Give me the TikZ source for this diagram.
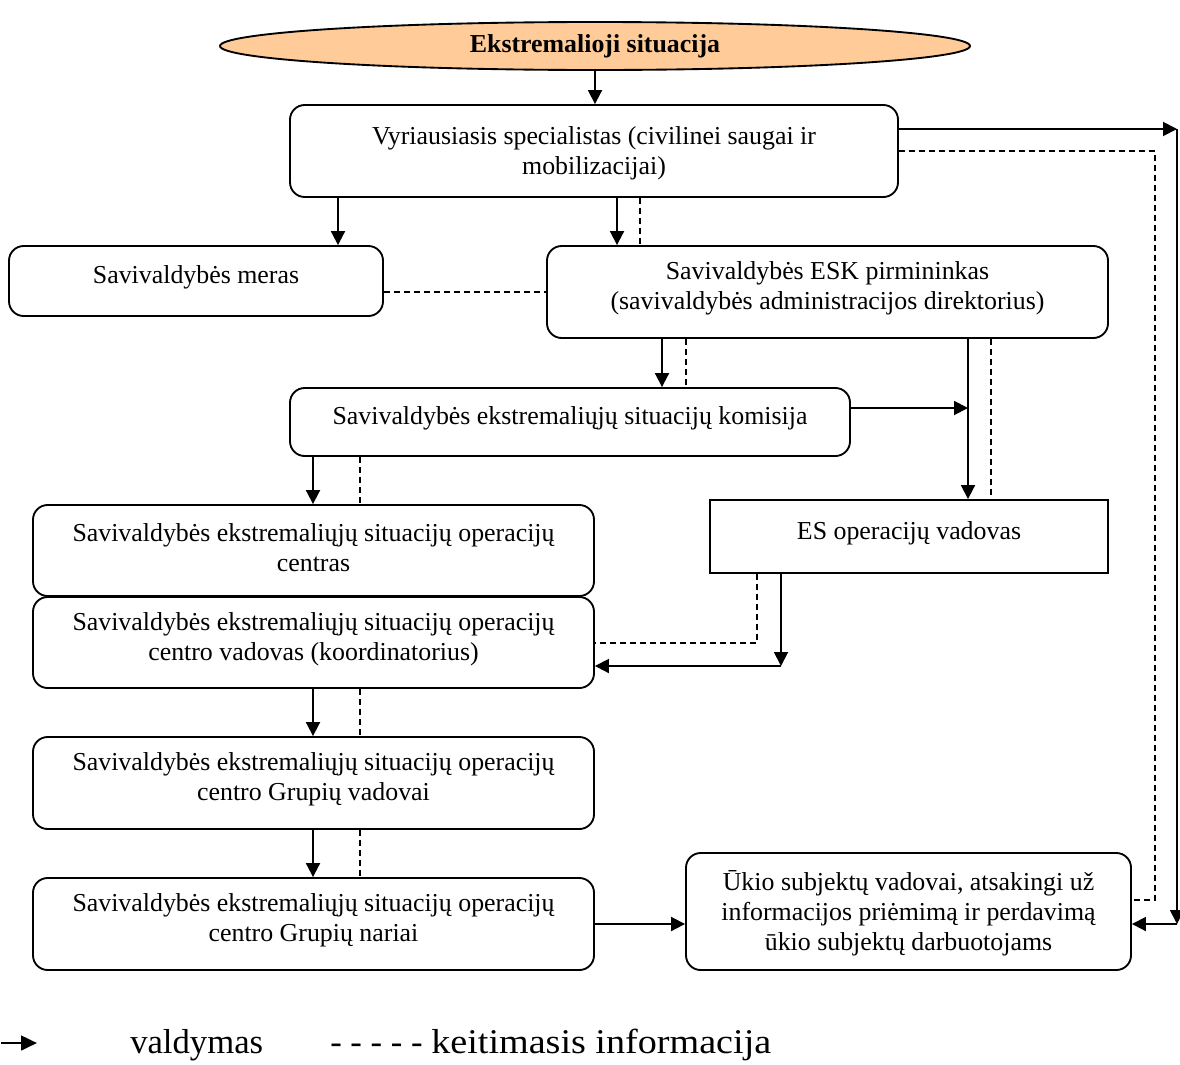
\documentclass[tikz,border=0pt]{standalone}
\usepackage{fontspec}
\setmainfont{Liberation Serif}
\usetikzlibrary{arrows.meta,shapes.geometric,fit}
\begin{document}
\begin{tikzpicture}[x=0.75pt,y=-0.75pt,
  every node/.style={font=\fontsize{19.4}{22.5}\selectfont},
  box/.style={draw,line width=1.4pt,rounded corners=11pt,inner sep=0pt},
  sqbox/.style={draw,line width=1.4pt,inner sep=0pt},
  txt/.style={align=center,inner sep=0pt,yshift=2.5pt},
  arr/.style={line width=1.4pt,-{Triangle[length=10.5pt,width=10.5pt]}},
  dsh/.style={line width=1.4pt,dash pattern=on 4.5pt off 3pt}]
\useasboundingbox (0,0) rectangle (1180,1064);

% column / row helper coordinates
\coordinate (X313) at (313,0);
\coordinate (X360) at (360,0);
\coordinate (X338) at (338,0);
\coordinate (X617) at (617,0);
\coordinate (X640) at (640,0);
\coordinate (X662) at (662,0);
\coordinate (X686) at (686,0);
\coordinate (X968) at (968,0);
\coordinate (X991) at (991,0);
\coordinate (X757) at (757,0);
\coordinate (X781) at (781,0);
\coordinate (X1155) at (1155,0);
\coordinate (X1177) at (1177,0);
\coordinate (Y129) at (0,129);
\coordinate (Y151) at (0,151);
\coordinate (Y408) at (0,408);
\coordinate (Y643) at (0,643);
\coordinate (Y666) at (0,666);
\coordinate (Y900) at (0,900);
\coordinate (Y924) at (0,924);

\node[draw,line width=1.4pt,ellipse,fill={rgb,255:red,255;green,204;blue,153},
      minimum width=562.5pt,minimum height=36pt,inner sep=0pt] (e) at (595,46)
      {\textbf{Ekstremalioji situacija}};

\node[box,fit={(290,105) (898,197)}] (b1) {};
\node[txt,yshift=-4.5pt] (b1t) at (b1.center) {Vyriausiasis specialistas (civilinei saugai ir\\mobilizacijai)};
\node[box,fit={(9,246) (383,316)}] (meras) {};
\node[txt] (merast) at (meras.center) {Savivaldybės meras};
\node[box,fit={(547,246) (1108,338)}] (esk) {};
\node[txt] (eskt) at (esk.center) {Savivaldybės ESK pirmininkas\\(savivaldybės administracijos direktorius)};
\node[box,fit={(290,388) (850,456)}] (kom) {};
\node[txt] (komt) at (kom.center) {Savivaldybės ekstremaliųjų situacijų komisija};
\node[sqbox,fit={(710,500) (1108,573)}] (es) {};
\node[txt] (est) at (es.center) {ES operacijų vadovas};
\node[box,fit={(33,505) (594,596)}] (cen) {};
\node[txt] (cent) at (cen.center) {Savivaldybės ekstremaliųjų situacijų operacijų\\centras};
\node[box,fit={(33,597) (594,688)}] (cv) {};
\node[txt] (cvt) at (cv.center) {Savivaldybės ekstremaliųjų situacijų operacijų\\centro vadovas (koordinatorius)};
\node[box,fit={(33,737) (594,829)}] (gv) {};
\node[txt] (gvt) at (gv.center) {Savivaldybės ekstremaliųjų situacijų operacijų\\centro Grupių vadovai};
\node[box,fit={(33,878) (594,970)}] (gn) {};
\node[txt] (gnt) at (gn.center) {Savivaldybės ekstremaliųjų situacijų operacijų\\centro Grupių nariai};
\node[box,fit={(686,853) (1131,970)}] (uk) {};
\node[txt,yshift=-4pt] (ukt) at (uk.center) {Ūkio subjektų vadovai, atsakingi už\\informacijos priėmimą ir perdavimą\\ūkio subjektų darbuotojams};

% connectors
\draw[arr] (e.south) -- (e.south |- b1.north);
\draw[arr] (b1.south -| X338) -- (meras.north -| X338);
\draw[arr] (b1.south -| X617) -- (esk.north -| X617);
\draw[dsh] (b1.south -| X640) -- (esk.north -| X640);
\draw[dsh] (meras.east |- esk.west) -- (esk.west);
\draw[arr] (esk.south -| X662) -- (kom.north -| X662);
\draw[dsh] (esk.south -| X686) -- (kom.north -| X686);
\draw[arr] (kom.east |- Y408) -- (X968 |- Y408);
\draw[arr] (esk.south -| X968) -- (es.north -| X968);
\draw[dsh] (esk.south -| X991) -- (es.north -| X991);
\draw[arr] (kom.south -| X313) -- (cen.north -| X313);
\draw[dsh] (kom.south -| X360) -- (cen.north -| X360);
\draw[dsh] (es.south -| X757) -- (X757 |- Y643) -- (cv.east |- Y643);
\draw[arr] (es.south -| X781) -- (X781 |- Y666);
\draw[arr] (X781 |- Y666) -- (cv.east |- Y666);
\draw[arr] (cv.south -| X313) -- (gv.north -| X313);
\draw[dsh] (cv.south -| X360) -- (gv.north -| X360);
\draw[arr] (gv.south -| X313) -- (gn.north -| X313);
\draw[dsh] (gv.south -| X360) -- (gn.north -| X360);
\draw[arr] (gn.east) -- (gn.east -| uk.west);
\draw[arr] (b1.east |- Y129) -- (X1177 |- Y129);
\draw[arr] (X1177 |- Y129) -- (X1177 |- Y924);
\draw[arr] (X1177 |- Y924) -- (uk.east |- Y924);
\draw[dsh] (b1.east |- Y151) -- (X1155 |- Y151) -- (X1155 |- Y900) -- (uk.east |- Y900);

% legend
\coordinate (la) at (1,1043);
\coordinate (lb) at (37,1043);
\draw[line width=2pt,-{Triangle[length=12pt,width=11pt]}] (la) -- (lb);
\node[anchor=base west,inner sep=0pt,font=\fontsize{26}{30}\selectfont] (lv) at (130,1053) {valdymas};
\node[anchor=base west,inner sep=0pt,font=\fontsize{26}{30}\selectfont] (lk) at (330,1053) {- - - - - \scalebox{1.1}[1]{keitimasis informacija}};
\end{tikzpicture}
\end{document}
